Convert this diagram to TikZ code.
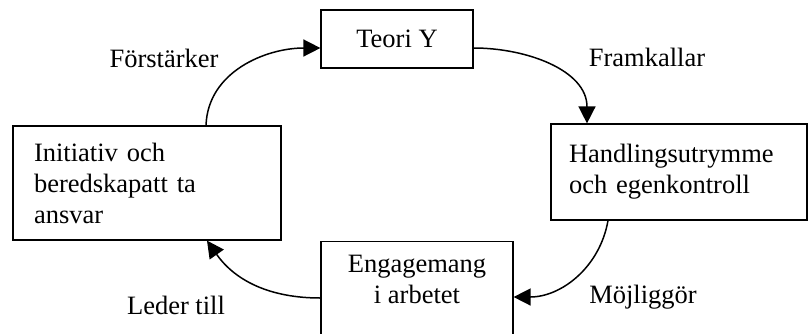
\documentclass[tikz,border=0pt]{standalone}
\usepackage{fontspec}
\setmainfont{Liberation Serif}
\usetikzlibrary{arrows.meta}
\begin{document}
\begin{tikzpicture}[x=1pt,y=-1pt,
    box/.style={draw, line width=1.2pt, inner sep=0pt},
    txt/.style={inner sep=0pt, font=\fontsize{26.5}{31}\selectfont},
    flow/.style={line width=1.5pt, -{Triangle[length=17pt,width=17pt]}}]
    \clip (0,0) rectangle (808,333);
    \node [box, txt, minimum width=152, minimum height=58] (teori) at (397,39) {Teori Y};
    \node [box, txt, minimum width=254, minimum height=96, text width=220, inner xsep=18, align=left] (handling) at (679,172) {Handlingsutrymme\\och egenkontroll};
    \node [box, txt, minimum width=268, minimum height=114, text width=226, inner xsep=21, align=left] (initiativ) at (147,183) {Initiativ och\\beredskapatt ta\\ansvar};
    \node [box, minimum width=192, minimum height=140, anchor=north] (engage) at (417,241) {};
    \node [txt, align=center, anchor=north] (engagetext) at ([yshift=-14]engage.north) {Engagemang\\i arbetet};
    \draw [flow] (initiativ.north -| 206,0) to[out=88, in=180] (teori.west |- 0,48);
    \draw (164,58) node [txt] (forst) {Förstärker};
    \draw [flow] (teori.east |- 0,48) to[out=0, in=90] (handling.north -| 587,0);
    \draw (647,57) node [txt] (framk) {Framkallar};
    \draw [flow] (handling.south -| 608,0) to[out=-100, in=0] (engage.east |- 0,297);
    \draw (643,297) node [txt] (mojl) {Möjliggör};
    \draw [flow] (engage.west |- 0,298) to[out=180, in=-55] (initiativ.south -| 207,0);
    \draw (176,305) node [txt] (leder) {Leder till};
\end{tikzpicture}
\end{document}
